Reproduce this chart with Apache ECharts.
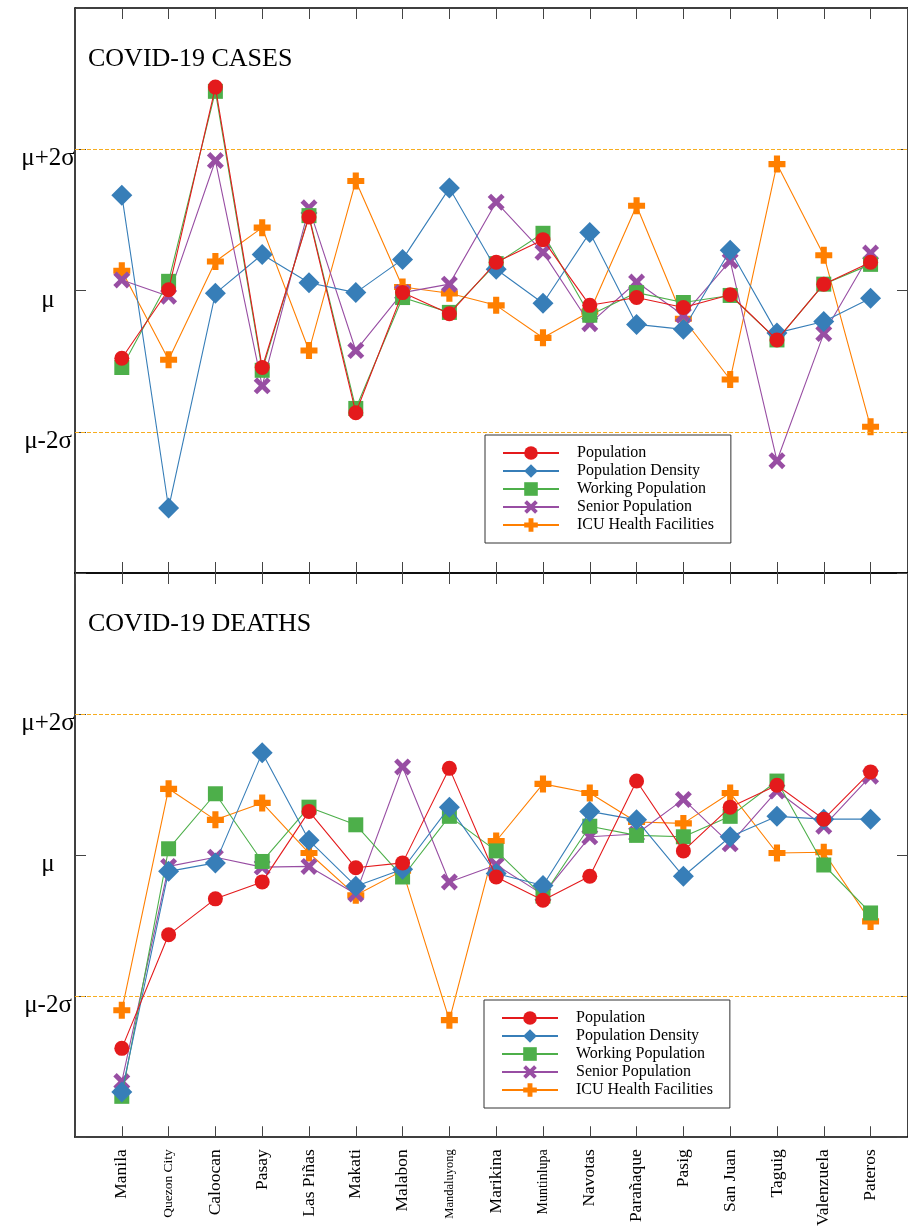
<!DOCTYPE html>
<html>
<head>
<meta charset="utf-8">
<title>COVID-19 cases and deaths</title>
<script src="https://cdn.jsdelivr.net/npm/echarts@6/dist/echarts.min.js"></script>
<style>
  html, body { margin: 0; padding: 0; background: #fff; }
  #chart { width: 908px; height: 1229px; }
</style>
</head>
<body>
<div id="chart"></div>
<script>
  // categories
  var cities = ['Manila', 'Quezon City', 'Caloocan', 'Pasay', 'Las Piñas', 'Makati', 'Malabon',
    'Mandaluyong', 'Marikina', 'Muntinlupa', 'Navotas', 'Parañaque', 'Pasig', 'San Juan',
    'Taguig', 'Valenzuela', 'Pateros'];
  var seriesNames = ['Population', 'Population Density', 'Working Population',
    'Senior Population', 'ICU Health Facilities'];

  // values in units of sigma from the mean
  var casesPopulation = [-0.96, 0.01, 2.88, -1.09, 1.04, -1.73, -0.03, -0.33, 0.40, 0.72, -0.21, -0.10, -0.24, -0.06, -0.70, 0.09, 0.40];
  var casesDensity = [1.35, -3.08, -0.04, 0.51, 0.11, -0.03, 0.44, 1.45, 0.30, -0.18, 0.82, -0.48, -0.55, 0.57, -0.60, -0.44, -0.11];
  var casesWorking = [-1.09, 0.13, 2.82, -1.13, 1.06, -1.67, -0.10, -0.31, 0.38, 0.81, -0.35, -0.03, -0.17, -0.07, -0.70, 0.09, 0.37];
  var casesSenior = [0.15, -0.08, 1.84, -1.35, 1.17, -0.85, -0.03, 0.09, 1.25, 0.54, -0.47, 0.12, -0.35, 0.42, -2.41, -0.61, 0.53];
  var casesICU = [0.28, -0.98, 0.41, 0.89, -0.85, 1.55, 0.05, -0.04, -0.21, -0.67, -0.30, 1.20, -0.40, -1.26, 1.79, 0.50, -1.93];

  var deathsPopulation = [-2.74, -1.13, -0.62, -0.38, 0.62, -0.18, -0.11, 1.23, -0.31, -0.64, -0.30, 1.05, 0.06, 0.68, 0.99, 0.51, 1.18];
  var deathsDensity = [-3.36, -0.23, -0.11, 1.45, 0.21, -0.44, -0.20, 0.68, -0.26, -0.43, 0.62, 0.50, -0.30, 0.26, 0.55, 0.51, 0.51];
  var deathsWorking = [-3.42, 0.09, 0.87, -0.09, 0.68, 0.43, -0.31, 0.55, 0.06, -0.58, 0.41, 0.28, 0.26, 0.55, 1.05, -0.14, -0.82];
  var deathsSenior = [-3.21, -0.16, -0.03, -0.17, -0.16, -0.55, 1.25, -0.38, -0.14, -0.56, 0.26, 0.30, 0.79, 0.16, 0.91, 0.41, 1.12];
  var deathsICU = [-2.20, 0.94, 0.50, 0.74, 0.03, -0.57, -0.22, -2.34, 0.20, 1.01, 0.88, 0.47, 0.45, 0.88, 0.03, 0.04, -0.94];

  var yTickValues = [-2, 0, 2];
  var yTickLabels = ['μ-2σ', 'μ', 'μ+2σ'];
  var panelTitles = ['COVID-19 CASES', 'COVID-19 DEATHS'];

  var panels = [
    [casesPopulation, casesDensity, casesWorking, casesSenior, casesICU],
    [deathsPopulation, deathsDensity, deathsWorking, deathsSenior, deathsICU]
  ];

  var serif = 'Liberation Serif';
  var colors = ['#e41a1c', '#377eb8', '#4daf4a', '#984ea3', '#ff7f00'];
  var plusPath = 'path://M3.2,0H6.8V3.2H10V6.8H6.8V10H3.2V6.8H0V3.2H3.2Z';
  var crossPath = 'path://M0,2L2,0L5,3L8,0L10,2L7,5L10,8L8,10L5,7L2,10L0,8L3,5Z';
  var symbols = ['circle', 'diamond', 'rect', crossPath, plusPath];
  var symbolSizes = [15, 21, 15, 17, 17];
  var zOrder = [7, 6, 5, 4, 3];
  // a few long names are set in smaller type
  var smallLabel = { 'Quezon City': 's', 'Mandaluyong': 'm', 'Muntinlupa': 'n' };

  var gridTops = [8, 573];
  var gridHeight = 565;

  var chart = echarts.init(document.getElementById('chart'));

  var grids = [], xAxes = [], yAxes = [], series = [], titles = [], legends = [];

  gridTops.forEach(function (top, g) {
    grids.push({ left: 75, top: top, right: -2, height: gridHeight });

    ['bottom', 'top'].forEach(function (pos) {
      xAxes.push({
        gridIndex: g, type: 'value', position: pos, min: -1, max: 16.8, interval: 1,
        axisLine: { show: true, onZero: false, lineStyle: { color: '#000', width: 1.5 } },
        axisTick: { show: true, inside: true, length: 11, lineStyle: { color: '#444', width: 1 } },
        axisLabel: {
          show: g === 1 && pos === 'bottom', rotate: 90, margin: 12,
          fontFamily: serif, fontSize: 17.5, color: '#000',
          formatter: function (v) {
            if (v < 0 || v % 1 !== 0 || v >= cities.length) return '';
            var name = cities[v];
            return smallLabel[name] ? '{' + smallLabel[name] + '|' + name + '}' : name;
          },
          rich: {
            s: { fontFamily: serif, fontSize: 13.5, color: '#000' },
            m: { fontFamily: serif, fontSize: 12.5, color: '#000' },
            n: { fontFamily: serif, fontSize: 14, color: '#000' }
          }
        },
        splitLine: { show: false }
      });
    });

    ['left', 'right'].forEach(function (pos) {
      yAxes.push({
        gridIndex: g, type: 'value', position: pos, min: -4, max: 4, interval: 2,
        axisLine: { show: true, onZero: false, lineStyle: { color: '#000', width: 1.5 } },
        axisTick: { show: true, inside: true, length: 11, lineStyle: { color: '#444', width: 1 } },
        axisLabel: {
          show: pos === 'left', margin: 27, align: 'center', verticalAlign: 'top',
          padding: [-3, 0, 0, 0],
          fontFamily: serif, fontSize: 25, color: '#000',
          formatter: function (v) {
            var i = yTickValues.indexOf(v);
            return i < 0 ? '' : yTickLabels[i];
          }
        },
        splitLine: { show: false }
      });
    });

    titles.push({
      text: panelTitles[g], left: 83, top: top + 33,
      textStyle: { fontFamily: serif, fontSize: 26, fontWeight: 'normal', color: '#000' }
    });

    legends.push({
      orient: 'vertical', left: 485 - g, top: top + 427, data: seriesNames,
      itemWidth: 56, itemHeight: 17, itemGap: 2, padding: [10, 17, 10, 17],
      borderColor: '#333', borderWidth: 1, selectedMode: false,
      textStyle: { fontFamily: serif, fontSize: 16, color: '#000', padding: [0, 0, 0, 13] }
    });

    panels[g].forEach(function (values, k) {
      var s = {
        name: seriesNames[k], type: 'line', xAxisIndex: 2 * g, yAxisIndex: 2 * g,
        z: zOrder[k], symbol: symbols[k], symbolSize: symbolSizes[k],
        data: values.map(function (v, i) { return [i, v]; }),
        itemStyle: { color: colors[k], opacity: 1 },
        lineStyle: { color: colors[k], width: 1.1 },
        emphasis: { disabled: true }
      };
      if (k === 4) {
        s.markLine = {
          silent: true, symbol: ['none', 'none'], label: { show: false },
          lineStyle: { color: '#f7ad1f', type: [4, 2], width: 1.2 },
          data: yTickValues.filter(function (v) { return v !== 0; })
            .map(function (v) { return { yAxis: v }; })
        };
      }
      series.push(s);
    });
  });

  chart.setOption({
    animation: false,
    backgroundColor: '#fff',
    color: colors,
    title: titles,
    legend: legends,
    grid: grids,
    xAxis: xAxes,
    yAxis: yAxes,
    series: series
  });
</script>
</body>
</html>
